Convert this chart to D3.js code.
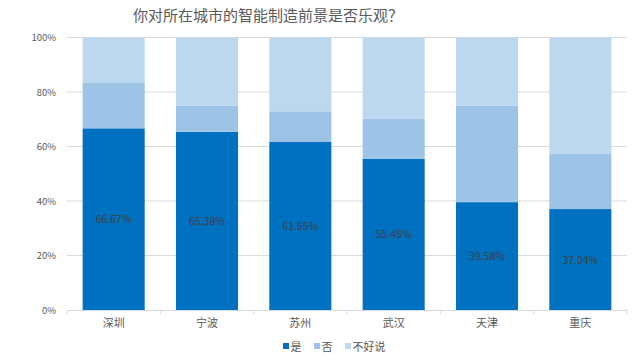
<!DOCTYPE html>
<html><head><meta charset="utf-8">
<script src="https://cdn.jsdelivr.net/npm/d3@7"></script>
<style>body{margin:0;background:#fff}svg{display:block}</style>
</head><body><svg id="c" width="640" height="361"></svg>
<script>
const title = "你对所在城市的智能制造前景是否乐观？";
const categories = ["深圳","宁波","苏州","武汉","天津","重庆"];
const seriesNames = ["是","否","不好说"];
const yes = [66.67,65.38,61.65,55.45,39.58,37.04];
const no = [16.67,9.62,11.28,14.85,35.42,20.37];
const unsure = [16.66,25.00,27.07,29.70,25.00,42.59];
const yTicks = [0,20,40,60,80,100];
const colors = ["#0070C0","#9DC3E6","#BDD7EE"];

const svg = d3.select("#c");
const m = {l:67, r:13, t:37.5, b:51};
const W = 640, H = 361;
const x = d3.scaleBand().domain(categories).range([m.l, W-m.r]).paddingInner(0.335).paddingOuter(0.1675);
const y = d3.scaleLinear().domain([0,100]).range([H-m.b, m.t]);

const font = "'Noto Sans CJK SC','Noto Sans',sans-serif";

svg.append("text").attr("x",268).attr("y",21).attr("text-anchor","middle")
  .attr("font-family",font).attr("font-size",15).attr("fill","#595959").text(title);

// grid
svg.append("g").selectAll("line").data(yTicks.filter(d=>d>0)).join("line")
  .attr("x1",m.l).attr("x2",W-m.r).attr("y1",d=>y(d)).attr("y2",d=>y(d))
  .attr("stroke","#D9D9D9").attr("stroke-width",1);

// y labels
svg.append("g").selectAll("text").data(yTicks).join("text")
  .attr("x",56).attr("y",d=>y(d)+3.5).attr("text-anchor","end")
  .attr("font-family",font).attr("font-size",9.5).attr("fill","#595959")
  .text(d=>d+"%");

const rows = categories.map((c,i)=>({cat:c, "是":yes[i], "否":no[i], "不好说":unsure[i]}));
const stack = d3.stack().keys(seriesNames)(rows);

svg.append("g").selectAll("g").data(stack).join("g").attr("fill",(d,i)=>colors[i])
  .selectAll("rect").data(d=>d).join("rect")
  .attr("x",d=>x(d.data.cat)).attr("width",x.bandwidth())
  .attr("y",d=>y(Math.min(100,d[1]))).attr("height",d=>y(d[0])-y(Math.min(100,d[1])));

// x axis
const xAxis = d3.axisBottom(x).tickSize(0).tickPadding(9);
const gx = svg.append("g").attr("transform",`translate(0,${y(0)})`).call(xAxis);
gx.select(".domain").attr("stroke","#D9D9D9");
gx.selectAll("text").attr("font-family",font).attr("font-size",11).attr("fill","#595959");
// boundary ticks
const bounds = categories.map(c=>x(c)-x.step()*x.paddingInner()/2).concat([W-m.r]);
bounds[0] = m.l;
svg.append("g").selectAll("line").data(bounds).join("line")
  .attr("x1",d=>d).attr("x2",d=>d).attr("y1",y(0)).attr("y2",y(0)+4)
  .attr("stroke","#D9D9D9");

// labels
svg.append("g").selectAll("text").data(yes.map((v,i)=>({v,c:categories[i]}))).join("text")
  .attr("x",d=>x(d.c)+x.bandwidth()/2).attr("y",d=>y(d.v/2)+4)
  .attr("text-anchor","middle").attr("font-family",font).attr("font-size",10.5)
  .attr("fill","#404040").text(d=>d.v.toFixed(2)+"%");

// legend
const leg = svg.append("g").attr("font-family",font).attr("font-size",11).attr("fill","#595959");
const lx = [283, 314, 345];
seriesNames.forEach((s,i)=>{
  leg.append("rect").attr("x",lx[i]).attr("y",343).attr("width",6).attr("height",6).attr("fill",colors[i]);
  leg.append("text").attr("x",lx[i]+7.5).attr("y",350.5).text(s);
});
</script></body></html>
